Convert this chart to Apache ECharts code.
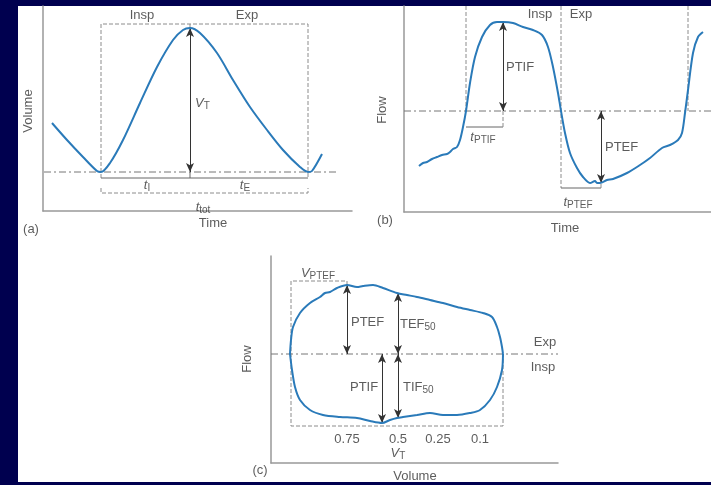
<!DOCTYPE html>
<html>
<head>
<meta charset="utf-8">
<title>Volume, flow and flow-volume loop</title>
<script src="https://cdn.jsdelivr.net/npm/echarts@6/dist/echarts.min.js"></script>
</head>
<body style="margin:0;background:#00004f">
<div style="position:absolute;left:18px;top:6px;width:693px;height:476px;background:#fff"></div>
<div id="chart" style="position:absolute;left:0;top:0;width:711px;height:485px"></div>
<script>
// (a) volume against time, end-expiratory volume = 0
const volumeCurve = [[9,49],[24,32],[40,15],[54,1],[58,0],[67,9],[80,32],[97,69],[114,105],[130,132],[140,142],[147,144],[157,139],[174,119],[190,92],[207,65],[224,42],[240,22],[257,5],[265,0],[269,1],[279,18]];
// (b) flow against time, zero flow = 0 (inspiration up)
const flowCurve = [[15,-55],[19,-52],[23,-51],[28,-48],[33,-46],[38,-44],[43,-43],[46,-41],[49,-38],[53,-36],[56,-29],[59,-16],[62,0],[66,28],[71,54],[78,74],[86,86],[93,89],[99,89],[109,88],[119,84],[129,81],[138,76],[144,64],[149,44],[154,18],[157,0],[161,-22],[166,-42],[173,-57],[179,-66],[186,-72],[191,-70],[193,-72],[196,-72],[203,-69],[209,-68],[223,-62],[236,-54],[246,-47],[258,-37],[266,-34],[274,-29],[278,-22],[281,-2],[284,21],[289,58],[294,74],[299,79]];
// (c) flow-volume loop, expiratory half above, inspiratory half below
const loopExp = [[19,0],[20,14],[22,27],[29,41],[39,51],[49,57],[54,61],[59,62],[66,66],[76,69],[86,67],[92,68],[102,69],[112,66],[126,61],[136,59],[146,57],[159,54],[172,51],[186,47],[199,44],[212,41],[221,37],[226,27],[229,17],[231,7],[232,0]];
const loopInsp = [[232,0],[231,-16],[226,-33],[219,-46],[209,-56],[199,-59],[186,-61],[172,-61],[159,-59],[146,-61],[132,-63],[126,-64],[119,-66],[111,-69],[99,-67],[86,-64],[69,-63],[52,-61],[39,-56],[29,-46],[24,-33],[21,-16],[19,0]];
const volumeTickPos = [76, 127, 167, 209];
const volumeTickLabels = ['0.75', '0.5', '0.25', '0.1'];

const ink = '#333';
const guide = '#8c8c8c';
const font = 'Liberation Sans, Arial, sans-serif';

function path(g, pts, type, color) {
  return {
    type: 'line', xAxisIndex: g, yAxisIndex: g, data: pts, symbol: 'none', silent: true,
    lineStyle: { color: color || guide, width: 1, type: type || 'solid' }, z: 2
  };
}
function dashDot(g, pts, arrows) {
  const s = path(g, pts, [7, 3, 2, 3], '#777');
  s.markLine = {
    silent: true, symbol: ['arrow', 'arrow'], symbolSize: [6, 9],
    label: { show: false },
    lineStyle: { color: ink, width: 1, type: 'solid' },
    data: arrows.map(a => [{ coord: a[0] }, { coord: a[1] }])
  };
  return s;
}
function curve(g, pts) {
  return {
    type: 'line', xAxisIndex: g, yAxisIndex: g, data: pts, symbol: 'none', silent: true,
    smooth: 0.3, lineStyle: { color: '#2a7ab9', width: 2 }, z: 5
  };
}
const rich = {
  it: { fontFamily: font, fontSize: 13, fontStyle: 'italic', color: ink, lineHeight: 16, verticalAlign: 'middle' },
  sb: { fontFamily: font, fontSize: 10, color: ink, lineHeight: 16, verticalAlign: 'bottom' },
  sm: { fontFamily: font, fontSize: 10, color: ink, lineHeight: 16, verticalAlign: 'bottom' }
};
function texts(g, list) {
  return {
    type: 'scatter', xAxisIndex: g, yAxisIndex: g, symbolSize: 0, silent: true, clip: false, z: 6,
    data: list.map(t => ({
      value: [t[0], t[1]],
      label: {
        show: true, position: [0, 0], formatter: () => t[2], align: t[3] || 'center',
        verticalAlign: 'middle', rotate: t[4] || 0,
        fontFamily: font, fontSize: 13, color: ink, rich: rich
      }
    }))
  };
}

const grids = [
  { left: 43, top: 6, width: 309, height: 205 },
  { left: 404, top: 6, width: 307, height: 206 },
  { left: 271, top: 256, width: 287, height: 207 }
];
const xr = [[0, 309], [0, 307], [0, 287]];
const yr = [[-39, 166], [-101, 105], [-109, 98]];
function axis(r) {
  return {
    type: 'value', min: r[0], max: r[1],
    axisLine: { show: true, onZero: false, lineStyle: { color: '#999', width: 1.5 } },
    axisTick: { show: false }, axisLabel: { show: false }, splitLine: { show: false }
  };
}

const series = [
  // (a)
  dashDot(0, [[1, 0], [294, 0]], [[[147, 144], [147, 0]]]),
  path(0, [[58, -6], [58, 148], [265, 148], [265, -6]], [4, 2]),
  path(0, [[147, 148], [147, 144]], [4, 2]),
  path(0, [[58, -6], [265, -6]], 'solid', '#666'),
  path(0, [[147, 0], [147, -6]], 'solid', '#666'),
  path(0, [[58, -16], [58, -21], [265, -21], [265, -16]], [4, 2]),
  curve(0, volumeCurve),
  texts(0, [
    [99, 157, 'Insp'], [204, 157, 'Exp'],
    [152, 69, '{it|V}{sm|T}', 'left'],
    [104, -13, '{it|t}{sb|I}'], [202, -13, '{it|t}{sb|E}'],
    [160, -35, '{it|t}{sb|tot}'],
    [170, -51, 'Time'], [-12, -57, '(a)'],
    [-15, 61, 'Volume', 'center', 90]
  ]),
  // (b)
  dashDot(1, [[0, 0], [307, 0]], [[[99, 89], [99, 0]], [[197, 0], [197, -72]]]),
  path(1, [[62, 105], [62, 0]], [4, 2]),
  path(1, [[157, 105], [157, -77]], [4, 2]),
  path(1, [[284, 105], [284, 0]], [4, 2]),
  path(1, [[62, -16], [99, -16]], 'solid', '#666'),
  path(1, [[99, -16], [99, 0]], [4, 2]),
  path(1, [[157, -77], [197, -77]], 'solid', '#666'),
  path(1, [[197, -77], [197, -72]], [4, 2]),
  curve(1, flowCurve),
  texts(1, [
    [136, 97, 'Insp'], [177, 97, 'Exp'],
    [102, 44, 'PTIF', 'left'], [79, -26, '{it|t}{sb|PTIF}'],
    [201, -36, 'PTEF', 'left'], [174, -91, '{it|t}{sb|PTEF}'],
    [161, -117, 'Time'], [-19, -109, '(b)'],
    [-22, 1, 'Flow', 'center', 90]
  ]),
  // (c)
  dashDot(2, [[0, 0], [287, 0]], [[[76, 69], [76, 0]], [[127, 61], [127, 0]], [[111, 0], [111, -69]], [[127, 0], [127, -64]]]),
  path(2, [[76, 69], [76, 73], [20, 73], [20, -72], [232, -72], [232, 0]], [4, 2]),
  curve(2, loopExp),
  curve(2, loopInsp),
  texts(2, [
    [47, 81, '{it|V}{sm|PTEF}'],
    [80, 32, 'PTEF', 'left'], [129, 30, 'TEF{sm|50}', 'left'],
    [274, 12, 'Exp'], [272, -13, 'Insp'],
    [79, -33, 'PTIF', 'left'], [132, -33, 'TIF{sm|50}', 'left'],
    [127, -99, '{it|V}{sm|T}'],
    [144, -122, 'Volume'], [-11, -116, '(c)'],
    [-24, -5, 'Flow', 'center', 90]
  ].concat(volumeTickPos.map((x, i) => [x, -85, volumeTickLabels[i]])))
];

const chart = echarts.init(document.getElementById('chart'), null, { renderer: 'canvas' });
chart.setOption({
  animation: false,
  grid: grids.map(g => Object.assign({ containLabel: false, outerBoundsMode: 'none' }, g)),
  xAxis: xr.map((r, i) => Object.assign(axis(r), { gridIndex: i })),
  yAxis: yr.map((r, i) => Object.assign(axis(r), { gridIndex: i })),
  series: series
});
</script>
</body>
</html>
